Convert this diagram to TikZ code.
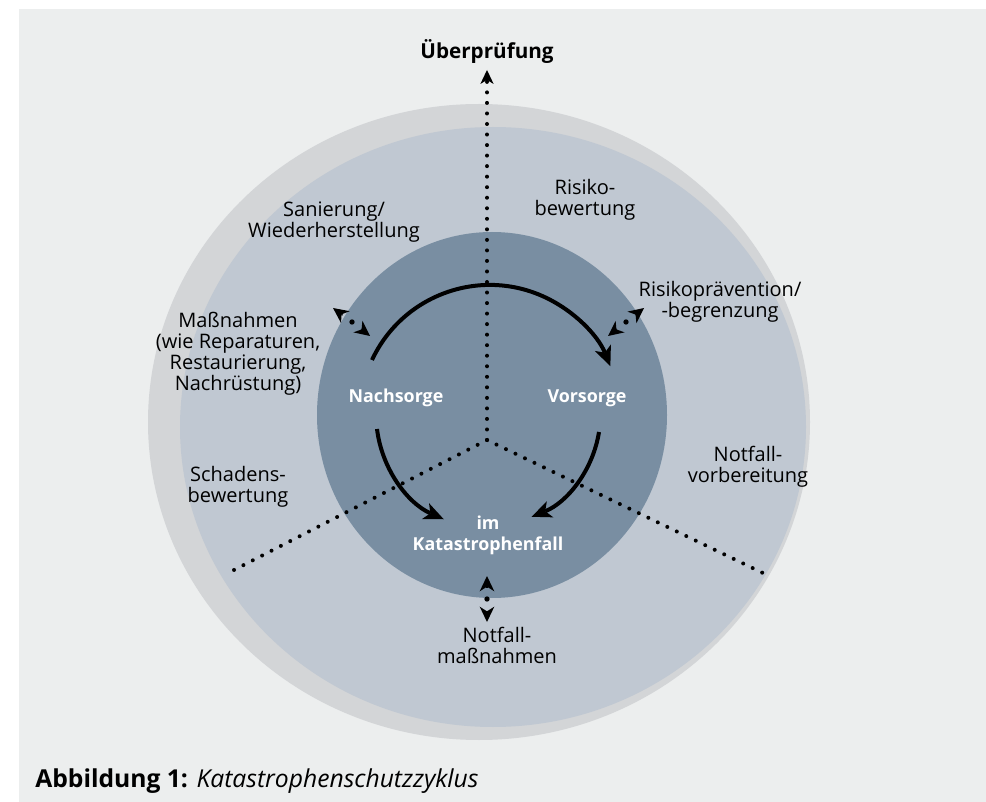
\documentclass[tikz,border=0pt]{standalone}
\usepackage{fontspec}
\setmainfont{Open Sans}
\usetikzlibrary{arrows.meta}
\definecolor{paper}{RGB}{236,238,238}
\definecolor{ring}{RGB}{211,213,215}
\definecolor{pale}{RGB}{192,200,210}
\definecolor{core}{RGB}{121,142,162}
\begin{document}
\begin{tikzpicture}[x=0.75pt,y=0.75pt,
  every node/.style={font=\fontsize{15}{15.8}\selectfont, align=center, inner sep=0pt},
  inner/.style={text=white, font=\fontsize{13.4}{15.8}\selectfont\bfseries},
  dots/.style={line width=3pt, line cap=round, dash pattern=on 0pt off 7.9pt},
  cyc/.style={line width=3pt, -{Stealth[length=15pt,width=13pt,inset=4pt,line width=0pt]}},
  smallhead/.style={line width=0.8pt, shorten <=6.5pt, -{Stealth[length=11.5pt,width=11pt,inset=3.5pt,line width=0pt]}},
  bullet/.style={circle, fill, inner sep=0pt, minimum size=4pt}]
\useasboundingbox (0,0) rectangle (986,-802);
\fill[white] (0,0) rectangle (986,-802);
\fill[paper] (19,-9) rectangle (986,-802);
\fill[ring] (479,-422) ellipse [x radius=331, y radius=318];
\fill[pale] (493,-427) ellipse [x radius=313, y radius=300];
\fill[core] (492,-415) ellipse [x radius=175, y radius=183];
\coordinate (hub) at (487,-440);
\coordinate (up) at (487,-70);
\coordinate (lft) at (232,-571);
\coordinate (rgt) at (765,-574);
\draw[dots] (hub) -- (lft);
\draw[dots] (hub) -- (rgt);
\draw[dots, -{Stealth[length=10.5pt,width=10pt,inset=3pt,line width=0pt]}] (hub) -- (up);
\node[bullet] (mL) at (352,-322) {};
\coordinate (mL1) at (333,-308);
\coordinate (mL2) at (370,-336);
\draw[smallhead] (mL) -- (mL1);
\draw[smallhead] (mL) -- (mL2);
\node[bullet] (mR) at (626,-322) {};
\coordinate (mR1) at (644,-308);
\coordinate (mR2) at (608,-336);
\draw[smallhead] (mR) -- (mR1);
\draw[smallhead] (mR) -- (mR2);
\node[bullet] (mB) at (487,-599) {};
\coordinate (mB1) at (487,-576);
\coordinate (mB2) at (487,-622);
\draw[smallhead] (mB) -- (mB1);
\draw[smallhead] (mB) -- (mB2);
\coordinate (a1) at (372,-360);
\coordinate (a2) at (377,-429);
\coordinate (a3) at (599,-432);
\draw[cyc] (a1) arc[start angle=155, end angle=22, radius=130];
\draw[cyc] (a2) arc[start angle=187, end angle=246, radius=114];
\draw[cyc] (a3) arc[start angle=-9, end angle=-68, radius=110];
\node[font=\fontsize{15.5}{18}\selectfont\bfseries] (ueber) at (487,-52) {Überprüfung};
\node (risiko) at (585,-200) {Risiko-\\bewertung};
\node (sanier) at (334,-222) {Sanierung/\\Wiederherstellung};
\node (mass) at (238,-354) {Maßnahmen\\(wie Reparaturen,\\Restaurierung,\\Nachrüstung)};
\node (schaden) at (238,-487) {Schadens-\\bewertung};
\node (praev) at (720,-302) {Risikoprävention/\\-begrenzung};
\node (vorber) at (748,-467) {Notfall-\\vorbereitung};
\node (notmass) at (497,-645) {Notfall-\\maßnahmen};
\node[inner] (nach) at (396,-398) {Nachsorge};
\node[inner] (vor) at (587,-398) {Vorsorge};
\node[inner] (kat) at (488,-535) {im\\Katastrophenfall};
\node[anchor=base west, font=\fontsize{18.5}{22}\selectfont] (cap) at (35,-787) {\textbf{Abbildung 1:} \textit{Katastrophenschutzzyklus}};
\end{tikzpicture}
\end{document}
